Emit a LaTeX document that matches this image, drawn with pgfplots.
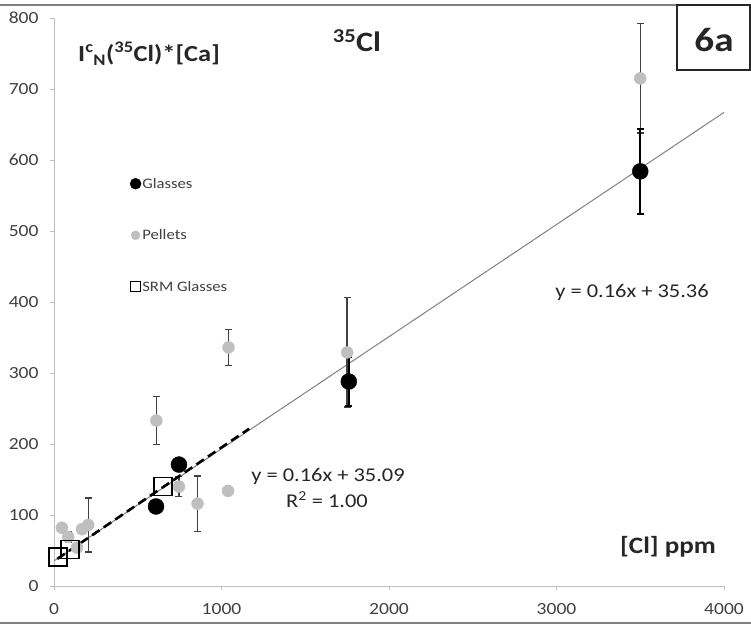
\documentclass[border=0pt]{standalone}
\usepackage{pgfplots}
\pgfplotsset{compat=1.18}
\usepackage{fontspec}
\setmainfont{Carlito}[FakeStretch=1.15]
\definecolor{txt}{HTML}{404040}
\definecolor{dtxt}{HTML}{262626}
\definecolor{pel}{HTML}{BFBFBF}
\definecolor{ebar}{HTML}{404040}
\definecolor{axl}{HTML}{BFBFBF}
\definecolor{trend}{HTML}{808080}
\begin{document}
\begin{tikzpicture}
\path[use as bounding box] (0bp,0bp) rectangle (751bp,626bp);
\draw[line width=2.5bp, color=trend] (0bp,621bp) -- (677bp,621bp);
\draw[line width=2.5bp, color=trend] (0bp,3bp) -- (751bp,3bp);
\begin{axis}[
  at={(54bp,40bp)}, anchor=south west,
  scale only axis, width=670bp, height=568bp,
  xmin=0, xmax=4000, ymin=0, ymax=800,
  axis lines*=left,
  axis line style={draw=axl, line width=0.8bp},
  xtick={0,1000,...,4000}, ytick={0,100,...,800},
  tick align=outside, major tick length=4bp,
  tick style={draw=axl, line width=0.8bp},
  /pgf/number format/assume math mode=true,
  /pgf/number format/set thousands separator={},
  ticklabel style={font=\fontsize{17bp}{20bp}\selectfont, text=txt},
  xticklabel style={yshift=-10bp},
  yticklabel style={xshift=-8bp},
  clip=false,
  legend style={at={(0.113,0.7205)}, anchor=north west, draw=none, fill=none,
    font=\fontsize{14.5bp}{16bp}\selectfont, text=txt, row sep=38bp,
    inner sep=0bp, nodes={inner sep=1bp}},
  legend cell align=left,
]
\addlegendimage{legend image code/.code={\fill[black] (5bp,0bp) circle (5.5bp);}}
\addlegendentry{Glasses}
\addlegendimage{legend image code/.code={\fill[pel] (5bp,0bp) circle (4.5bp);}}
\addlegendentry{Pellets}
\addlegendimage{legend image code/.code={\draw[black, line width=0.9bp] (0bp,-5bp) rectangle (10bp,5bp);}}
\addlegendentry{SRM Glasses}
% regression (gray)
\addplot[color=trend, line width=1bp, forget plot] coordinates {(0,35.36) (4000,667)};
% Pellets
\addplot[forget plot, only marks, mark=*, mark size=6bp, mark options={draw=pel, fill=pel},
  error bars/.cd, y dir=both, y explicit,
  error bar style={color=ebar, line width=1.3bp},
  error mark options={rotate=90, mark size=3.5bp, line width=1.3bp, color=ebar}]
  table[x=x, y=y, y error=e] {
x y e
47 82 0
85 69 7
137 54 0
167 80 0
204 86 38
611 233 34
746 140 14
857 116 39
1039 134 0
1042 336 25
1750 329 77
3500 715 77
};
% Glasses
\addplot[forget plot, only marks, mark=*, mark size=8bp, mark options={draw=black, fill=black},
  error bars/.cd, y dir=both, y explicit,
  error bar style={color=black, line width=1.8bp},
  error mark options={rotate=90, mark size=3.5bp, line width=1.8bp, color=black}]
  table[x=x, y=y, y error=e] {
x y e
609 112 0
746 171 0
1760 288 35
3500 584 60
};
% SRM glasses
\addplot[forget plot, only marks, mark=square, mark size=9bp, mark options={draw=black, line width=1.3bp, fill=none}]
  coordinates {(24,41) (96,51) (651,140)};
% dashed regression
\addplot[forget plot, black, line width=2.6bp, dash pattern=on 9bp off 5bp] coordinates {(20,38.3) (1165,221.5)};
\end{axis}
\node[anchor=base, inner sep=0pt, font=\bfseries\fontsize{28bp}{32bp}\selectfont, text=dtxt] at (357bp,574bp) {\textsuperscript{35}Cl};
\node[anchor=base west, inner sep=0pt, font=\bfseries\fontsize{23bp}{26bp}\selectfont, text=dtxt] at (78bp,564bp) {I\textsuperscript{c}\textsubscript{N}(\textsuperscript{35}Cl)*[Ca]};
\draw[line width=1.3bp, color=dtxt, fill=white] (677bp,556bp) rectangle (750bp,621bp);
\node[anchor=base, inner sep=0pt, font=\bfseries\fontsize{34bp}{40bp}\selectfont, text=dtxt] at (714bp,574bp) {6a};
\node[anchor=base, inner sep=0pt, font=\fontsize{19.5bp}{22bp}\selectfont, text=dtxt] at (632bp,328bp) {y = 0.16x + 35.36};
\node[anchor=base, inner sep=0pt, font=\fontsize{19.5bp}{22bp}\selectfont, text=dtxt] at (328bp,144bp) {y = 0.16x + 35.09};
\node[anchor=base, inner sep=0pt, font=\fontsize{19.5bp}{22bp}\selectfont, text=dtxt] at (327bp,118bp) {R\textsuperscript{2} = 1.00};
\node[anchor=base, inner sep=0pt, font=\bfseries\fontsize{23.5bp}{26bp}\selectfont, text=dtxt] at (668bp,72bp) {[Cl] ppm};
\end{tikzpicture}
\end{document}
